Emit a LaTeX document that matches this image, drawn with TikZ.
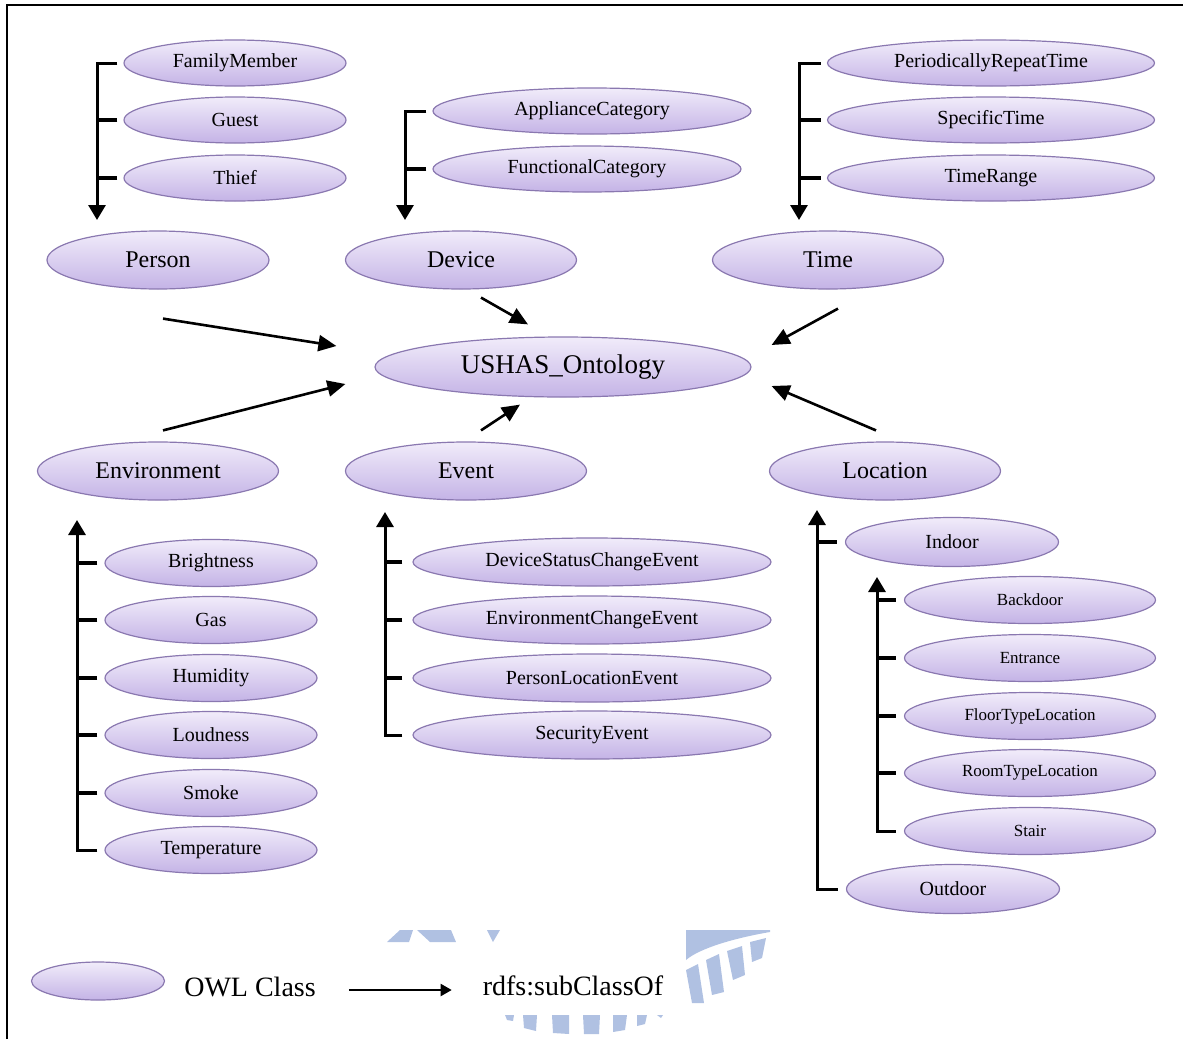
\documentclass[tikz,border=0pt]{standalone}
\usepackage{fontspec}
\setmainfont{Liberation Serif}
\usetikzlibrary{shapes.geometric,arrows.meta,calc}
\definecolor{owltop}{HTML}{F1ECFA}
\definecolor{owlbot}{HTML}{C4B3E6}
\definecolor{owlline}{HTML}{8A78B0}
\definecolor{wmblue}{HTML}{B0C1E2}
\begin{document}
\begin{tikzpicture}[x=0.5pt,y=-0.5pt,
	owl/.style={ellipse,draw=owlline,line width=0.6pt,top color=owltop,bottom color=owlbot,inner sep=0pt,minimum height=23pt,font=\fontsize{10}{12}\selectfont},
	big/.style={owl,minimum height=29pt,font=\fontsize{12}{14}\selectfont},
	tiny/.style={owl,minimum height=23.5pt,font=\fontsize{8.5}{10}\selectfont},
	isa/.style={line width=1.3pt,-{Triangle[length=9pt,width=8pt]}},
	tree/.style={line width=1.5pt,-{Triangle[length=7.5pt,width=8.5pt]}},
	tick/.style={line width=1.6pt},
	legend/.style={font=\fontsize{14}{16}\selectfont}]
	\useasboundingbox (0,0) rectangle (1183,1039);
	% watermark
	\fill[wmblue] (387,942) -- (400,930) -- (413,930) -- (409,942) -- cycle;
	\fill[wmblue] (417,930) -- (451,930) -- (456,942) -- (430,942) -- cycle;
	\fill[wmblue] (487,930) -- (500,930) -- (493,942) -- cycle;
	\fill[wmblue] (686,930) -- (770,930) -- (770,932) .. controls (735,938) and (700,948) .. (686,960) -- cycle;
	\fill[wmblue] (686,970) -- (698,964) -- (704,1003) -- (692,1003) -- cycle;
	\fill[wmblue] (706,960) -- (719,954) -- (724,992) -- (712,995) -- cycle;
	\fill[wmblue] (727,951) -- (742,946) -- (745,975) -- (733,980) -- cycle;
	\fill[wmblue] (750,942) -- (766,938) -- (762,958) -- (752,962) -- cycle;
	\fill[wmblue] (505,1015) -- (514,1015) -- (513,1021) -- (507,1020) -- cycle;
	\fill[wmblue] (523,1015) -- (537,1015) -- (536,1031) -- (524,1028) -- cycle;
	\fill[wmblue] (552,1015) -- (569,1015) -- (569,1034) -- (553,1033) -- cycle;
	\fill[wmblue] (583,1015) -- (600,1015) -- (599,1034) -- (584,1034) -- cycle;
	\fill[wmblue] (613,1015) -- (627,1015) -- (625,1030) -- (613,1032) -- cycle;
	\fill[wmblue] (637,1015) -- (647,1015) -- (645,1024) -- (637,1026) -- cycle;
	\fill[wmblue] (657,1015) -- (663,1015) -- (661,1018) -- cycle;
	% frame
	\draw[line width=1pt] (7,1039) -- (7,5) -- (1183,5);
	% upper classes
	\node[owl,minimum width=111pt] (family) at (235,63) {FamilyMember};
	\node[owl,minimum width=111pt] (guest) at (235,120) {Guest};
	\node[owl,minimum width=111pt] (thief) at (235,178) {Thief};
	\node[big,minimum width=111pt] (person) at (158,260) {Person};
	\node[owl,minimum width=159pt] (appliance) at (592,111) {ApplianceCategory};
	\node[owl,minimum width=154pt] (functional) at (587,169) {FunctionalCategory};
	\node[big,minimum width=115.5pt] (device) at (461,260) {Device};
	\node[owl,minimum width=163.5pt] (periodic) at (991,63) {PeriodicallyRepeatTime};
	\node[owl,minimum width=163.5pt] (specific) at (991,120) {SpecificTime};
	\node[owl,minimum width=163.5pt] (range) at (991,178) {TimeRange};
	\node[big,minimum width=115.5pt] (time) at (828,260) {Time};
	\node[big,minimum width=188pt,minimum height=30pt,font=\fontsize{13.5}{16}\selectfont] (onto) at (563,367) {USHAS\_Ontology};
	% lower classes
	\node[big,minimum width=120.5pt] (env) at (158,471) {Environment};
	\node[big,minimum width=120.5pt] (event) at (466,471) {Event};
	\node[big,minimum width=115.5pt] (loc) at (885,471) {Location};
	\node[owl,minimum width=106pt,minimum height=23.5pt] (bright) at (211,563) {Brightness};
	\node[owl,minimum width=106pt,minimum height=23.5pt] (gas) at (211,620) {Gas};
	\node[owl,minimum width=106pt,minimum height=23.5pt] (humid) at (211,678) {Humidity};
	\node[owl,minimum width=106pt,minimum height=23.5pt] (loud) at (211,735) {Loudness};
	\node[owl,minimum width=106pt,minimum height=23.5pt] (smoke) at (211,793) {Smoke};
	\node[owl,minimum width=106pt,minimum height=23.5pt] (temp) at (211,850) {Temperature};
	\node[owl,minimum width=179pt,minimum height=24pt] (status) at (592,562) {DeviceStatusChangeEvent};
	\node[owl,minimum width=179pt,minimum height=24pt] (envchange) at (592,620) {EnvironmentChangeEvent};
	\node[owl,minimum width=179pt,minimum height=24pt] (perloc) at (592,678) {PersonLocationEvent};
	\node[owl,minimum width=179pt,minimum height=24pt] (security) at (592,735) {SecurityEvent};
	\node[owl,minimum width=106.5pt,minimum height=24.5pt] (indoor) at (952,542) {Indoor};
	\node[owl,minimum width=106.5pt,minimum height=24.5pt] (outdoor) at (953,889) {Outdoor};
	\node[tiny,minimum width=125.5pt] (back) at (1030,600) {Backdoor};
	\node[tiny,minimum width=125.5pt] (entrance) at (1030,658) {Entrance};
	\node[tiny,minimum width=125.5pt] (floor) at (1030,716) {FloorTypeLocation};
	\node[tiny,minimum width=125.5pt] (room) at (1030,773) {RoomTypeLocation};
	\node[tiny,minimum width=125.5pt] (stair) at (1030,831) {Stair};
	% subclass brackets
	\coordinate (pb) at (97,220);
	\coordinate (db) at (405,220);
	\coordinate (tb) at (799,220);
	\coordinate (eb) at (77,520);
	\coordinate (vb) at (385,512);
	\coordinate (lb) at (817,510);
	\coordinate (ib) at (877,577);
	\draw[tree] (family.west) ++(-6,0) -| (pb);
	\foreach \n in {guest,thief} \draw[tick] (\n.west) ++(-6,0) -- (pb |- \n.west);
	\draw[tree] (appliance.west) ++(-6,0) -| (db);
	\draw[tick] (functional.west) ++(-6,0) -- (db |- functional.west);
	\draw[tree] (periodic.west) ++(-6,0) -| (tb);
	\foreach \n in {specific,range} \draw[tick] (\n.west) ++(-6,0) -- (tb |- \n.west);
	\draw[tree] (temp.west) ++(-7,0) -| (eb);
	\foreach \n in {bright,gas,humid,loud,smoke} \draw[tick] (\n.west) ++(-7,0) -- (eb |- \n.west);
	\draw[tree] (security.west) ++(-10,0) -| (vb);
	\foreach \n in {status,envchange,perloc} \draw[tick] (\n.west) ++(-10,0) -- (vb |- \n.west);
	\draw[tree] (outdoor.west) ++(-8,0) -| (lb);
	\draw[tick] (indoor.west) ++(-8,0) -- (lb |- indoor.west);
	\draw[tree] (stair.west) ++(-8,0) -| (ib);
	\foreach \n in {back,entrance,floor,room} \draw[tick] (\n.west) ++(-8,0) -- (ib |- \n.west);
	% to the ontology
	\draw[isa] ($(person.south)+(5,29)$) -- ($(onto.west)+(-38,-21)$);
	\draw[isa] ($(device.south)+(20,8)$) -- ($(onto.north)+(-35,-12)$);
	\draw[isa] ($(time.south)+(10,19)$) -- ($(onto.east)+(20,-22)$);
	\draw[isa] ($(env.north)+(5,-11)$) -- ($(onto.west)+(-29,17)$);
	\draw[isa] ($(event.north)+(15,-11)$) -- ($(onto.south)+(-43,7)$);
	\draw[isa] ($(loc.north)+(-9,-11)$) -- ($(onto.east)+(20,19)$);
	% legend
	\node[owl,minimum width=66.5pt,minimum height=19pt] (legowl) at (98,981) {};
	\node[legend] (legcls) at (250,987) {OWL Class};
	\node[legend] (legsub) at (573,986) {rdfs:subClassOf};
	\draw[line width=1pt,-{Triangle[length=5.5pt,width=6pt]}] ($(legcls.east)+(26,3)$) -- ($(legsub.west)+(-24,4)$);
\end{tikzpicture}
\end{document}
